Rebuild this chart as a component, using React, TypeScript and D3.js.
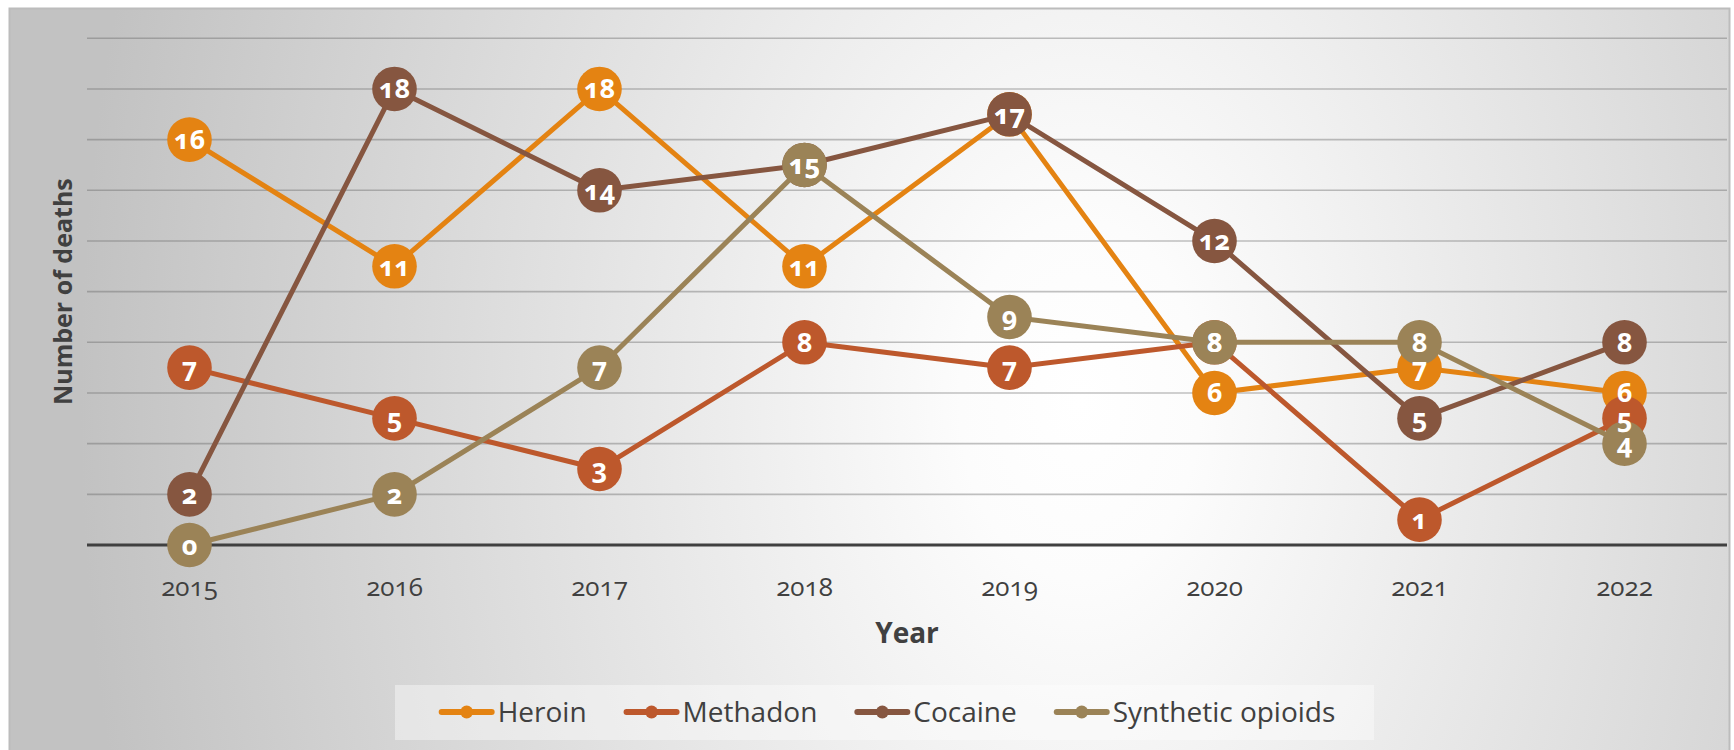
import React, { useMemo } from 'react';
import * as d3 from 'd3';

const years = ['2015', '2016', '2017', '2018', '2019', '2020', '2021', '2022'];
const heroin = [16, 11, 18, 11, 17, 6, 7, 6];
const methadon = [7, 5, 3, 8, 7, 8, 1, 5];
const cocaine = [2, 18, 14, 15, 17, 12, 5, 8];
const synthetic = [0, 2, 7, 15, 9, 8, 8, 4];
const seriesNames = ['Heroin', 'Methadon', 'Cocaine', 'Synthetic opioids'];
const seriesValues = [heroin, methadon, cocaine, synthetic];
const seriesColors = ['#E48312', '#BD582C', '#865640', '#9B8357'];
const yTicks = [0, 2, 4, 6, 8, 10, 12, 14, 16, 18, 20];
const xTitle = 'Year';
const yTitle = 'Number of deaths';

const W = 1734;
const H = 750;
const M = { left: 87, right: 1727, top: 38.3, bottom: 545 };
const FONT = '"Open Sans", "Noto Sans", sans-serif';
const TXT = '#404040';

export default function App() {
  const x = d3.scalePoint<string>().domain(years).range([M.left, M.right]).padding(0.5);
  const y = d3.scaleLinear().domain([0, 20]).range([M.bottom, M.top]);
  const line = d3
    .line<number>()
    .x((_, i) => x(years[i]) as number)
    .y((d) => y(d));

  const legendFont = 28;
  const legend = useMemo(() => {
    const canvas = document.createElement('canvas');
    const ctx = canvas.getContext('2d');
    const widths = seriesNames.map((n) => {
      if (!ctx) return n.length * 14;
      ctx.font = `${legendFont}px "Open Sans"`;
      return ctx.measureText(n).width;
    });
    const sym = 56;
    const gapText = 3;
    const gapItem = 37;
    const total = widths.reduce((a, w) => a + sym + gapText + w, 0) + gapItem * (widths.length - 1);
    let cur = 887 - total / 2;
    return widths.map((w) => {
      const item = { x: cur, tx: cur + sym + gapText };
      cur += sym + gapText + w + gapItem;
      return item;
    });
  }, []);

  const legendY = 712;

  return (
    <svg
      width={W}
      height={H}
      style={{ position: 'absolute', left: 0, top: 0, display: 'block' }}
      fontFamily={FONT}
    >
      <defs>
        <radialGradient
          id="bg"
          gradientUnits="userSpaceOnUse"
          cx={1080}
          cy={400}
          r={1000}
          gradientTransform="translate(1080 400) scale(1 1.5) translate(-1080 -400)"
        >
          <stop offset="0" stopColor="#ffffff" />
          <stop offset="0.12" stopColor="#fcfcfc" />
          <stop offset="1" stopColor="#c2c2c2" />
        </radialGradient>
      </defs>
      <rect x={0} y={0} width={W} height={H} fill="#ffffff" />
      <rect x={9.5} y={8.5} width={1720} height={745} fill="url(#bg)" stroke="#bcbcbc" strokeWidth={2} />

      {/* gridlines */}
      {yTicks
        .filter((t) => t > 0)
        .map((t) => (
          <line
            key={t}
            x1={M.left}
            x2={M.right}
            y1={y(t)}
            y2={y(t)}
            stroke="rgba(100,100,100,0.4)"
            strokeWidth={1.6}
          />
        ))}
      {/* baseline */}
      <line x1={M.left} x2={M.right} y1={y(0)} y2={y(0)} stroke="#404040" strokeWidth={3} />

      {/* x tick labels */}
      {years.map((yr) => (
        <text
          key={yr}
          x={x(yr)}
          y={596}
          textAnchor="middle"
          fontSize={26}
          fill={TXT}
          style={{ fontVariantNumeric: 'oldstyle-nums' }}
        >
          {yr}
        </text>
      ))}

      {/* axis titles */}
      <text x={(M.left + M.right) / 2} y={643} textAnchor="middle" fontSize={28} fontWeight="bold" fill={TXT}>
        {xTitle}
      </text>
      <text
        transform={`translate(72, ${(M.top + M.bottom) / 2}) rotate(-90)`}
        textAnchor="middle"
        fontSize={25}
        fontWeight="bold"
        fill={TXT}
      >
        {yTitle}
      </text>

      {/* series lines & markers */}
      {seriesValues.map((vals, si) => (
        <g key={seriesNames[si]}>
          <path d={line(vals) || ''} fill="none" stroke={seriesColors[si]} strokeWidth={5} strokeLinejoin="round" />
          {vals.map((v, i) => (
            <circle key={i} cx={x(years[i])} cy={y(v)} r={22.3} fill={seriesColors[si]} />
          ))}
        </g>
      ))}

      {/* labels */}
      {seriesValues.map((vals, si) => (
        <g key={'l' + seriesNames[si]}>
          {vals.map((v, i) => (
            <text
              key={i}
              x={x(years[i])}
              y={y(v) + 9.5}
              textAnchor="middle"
              fontSize={27}
              fontWeight="bold"
              fill="#ffffff"
              style={{ fontVariantNumeric: 'oldstyle-nums' }}
            >
              {v}
            </text>
          ))}
        </g>
      ))}

      {/* legend */}
      <rect x={395} y={685} width={979} height={55} fill="rgba(255,255,255,0.4)" />
      {seriesNames.map((n, si) => (
        <g key={'leg' + n}>
          <line
            x1={legend[si].x + 3}
            x2={legend[si].x + 53}
            y1={legendY}
            y2={legendY}
            stroke={seriesColors[si]}
            strokeWidth={6}
            strokeLinecap="round"
          />
          <circle cx={legend[si].x + 28} cy={legendY} r={6.5} fill={seriesColors[si]} />
          <text x={legend[si].tx} y={722} fontSize={legendFont} fill={TXT}>
            {n}
          </text>
        </g>
      ))}
    </svg>
  );
}
